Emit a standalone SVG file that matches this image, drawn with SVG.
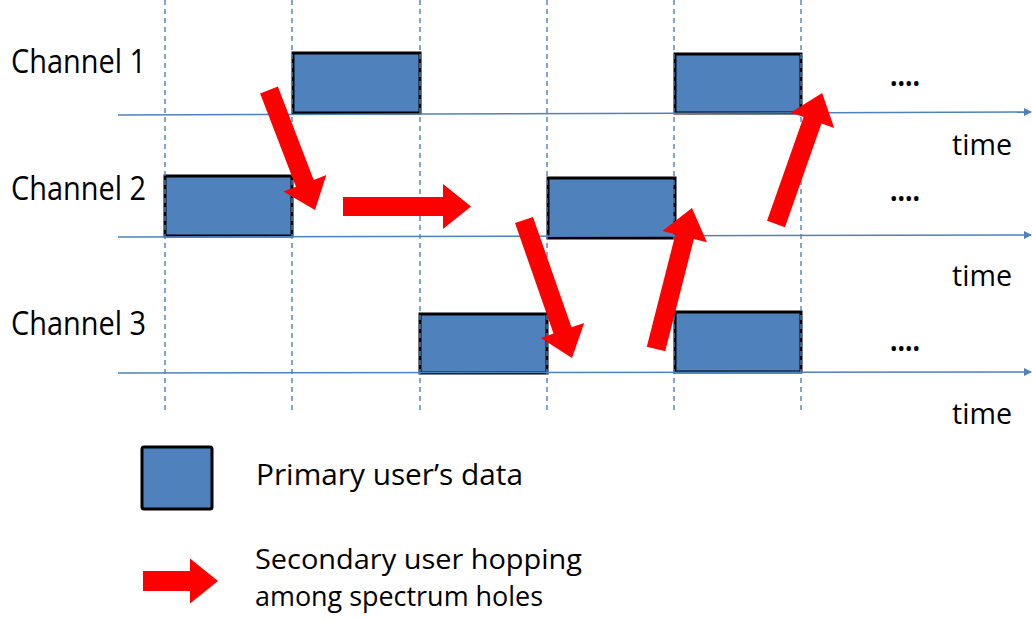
<svg xmlns="http://www.w3.org/2000/svg" width="1032" height="620" viewBox="0 0 1032 620">
<style>
  .grid { stroke:#4F81BD; stroke-width:1.4; stroke-dasharray:5 4; fill:none; }
  .axis { stroke:#4F81BD; stroke-width:1.5; fill:none; }
  .box { fill:#4F81BD; stroke:#000; stroke-width:3; }
  .hop { fill:#FF0000; stroke:none; }
  .lbl { font-family:"Open Sans","Liberation Sans",sans-serif; fill:#000; }
</style>
<defs>
  <marker id="axhead" markerWidth="8" markerHeight="8" refX="7" refY="4" orient="auto" markerUnits="userSpaceOnUse">
    <path d="M0,0 L8,4 L0,8 Z" fill="#4F81BD"/>
  </marker>
</defs>
<rect width="1032" height="620" fill="#fff"/>

<g id="channel-labels">
  <text class="lbl" x="11" y="73" font-size="32" textLength="135" lengthAdjust="spacingAndGlyphs">Channel 1</text>
  <text class="lbl" x="11" y="200" font-size="32" textLength="135" lengthAdjust="spacingAndGlyphs">Channel 2</text>
  <text class="lbl" x="11" y="335" font-size="32" textLength="135" lengthAdjust="spacingAndGlyphs">Channel 3</text>
</g>

<g id="primary-blocks">
  <rect id="p1" class="box" x="293" y="53" width="127" height="60"/>
  <rect id="p2" class="box" x="675" y="54" width="126" height="59"/>
  <rect id="p3" class="box" x="165" y="176" width="127" height="60"/>
  <rect id="p4" class="box" x="548" y="178" width="127" height="60"/>
  <rect id="p5" class="box" x="420" y="314" width="127" height="59"/>
  <rect id="p6" class="box" x="675" y="312" width="126" height="60"/>
</g>

<g id="time-axes">
  <line class="axis" x1="118" y1="115" x2="1031" y2="112" marker-end="url(#axhead)"/>
  <line class="axis" x1="118" y1="237" x2="1031" y2="235" marker-end="url(#axhead)"/>
  <line class="axis" x1="118" y1="373" x2="1031" y2="372" marker-end="url(#axhead)"/>
</g>

<g id="slot-grid">
  <line class="grid" x1="165" y1="0" x2="165" y2="410"/>
  <line class="grid" x1="292" y1="0" x2="292" y2="410"/>
  <line class="grid" x1="420" y1="0" x2="420" y2="410"/>
  <line class="grid" x1="547" y1="0" x2="547" y2="410"/>
  <line class="grid" x1="674" y1="0" x2="674" y2="410"/>
  <line class="grid" x1="801" y1="0" x2="801" y2="410"/>
</g>

<g id="time-labels">
  <text class="lbl" x="952" y="155" font-size="30" textLength="60" lengthAdjust="spacingAndGlyphs">time</text>
  <text class="lbl" x="952" y="286" font-size="30" textLength="60" lengthAdjust="spacingAndGlyphs">time</text>
  <text class="lbl" x="952" y="424" font-size="30" textLength="60" lengthAdjust="spacingAndGlyphs">time</text>
</g>

<g id="ellipses">
  <text class="lbl" x="890" y="86" font-size="30" font-weight="bold" textLength="30" lengthAdjust="spacingAndGlyphs">....</text>
  <text class="lbl" x="890" y="201" font-size="30" font-weight="bold" textLength="30" lengthAdjust="spacingAndGlyphs">....</text>
  <text class="lbl" x="890" y="351" font-size="30" font-weight="bold" textLength="30" lengthAdjust="spacingAndGlyphs">....</text>
</g>

<g id="connectors">
  <path id="h1" class="hop" transform="translate(269,90) rotate(69)" d="M0,-9.5 H100 V-23 L128.5,0 L100,23 V9.5 H0 Z"/>
  <path id="h2" class="hop" transform="translate(343,206.5)" d="M0,-9.5 H100 V-22.5 L128,0 L100,22.5 V9.5 H0 Z"/>
  <path id="h3" class="hop" transform="translate(524,220) rotate(70.8)" d="M0,-9.5 H117 V-23 L146,0 L117,23 V9.5 H0 Z"/>
  <path id="h4" class="hop" transform="translate(656,349) rotate(-75.7)" d="M0,-9.5 H116 V-23 L145.5,0 L116,23 V9.5 H0 Z"/>
  <path id="h5" class="hop" transform="translate(776,224) rotate(-70.6)" d="M0,-9.5 H110 V-23 L139,0 L110,23 V9.5 H0 Z"/>
</g>

<g id="legend-primary">
  <rect class="box" x="142" y="447" width="70" height="62" rx="2"/>
  <text class="lbl" x="256" y="485" font-size="30" textLength="267" lengthAdjust="spacingAndGlyphs">Primary user’s data</text>
</g>

<g id="legend-secondary">
  <path class="hop" transform="translate(143,581)" d="M0,-10 H47 V-22.5 L75,0 L47,22.5 V10 H0 Z"/>
  <text class="lbl" x="255" y="569" font-size="28" textLength="327" lengthAdjust="spacingAndGlyphs">Secondary user hopping</text>
  <text class="lbl" x="255" y="606" font-size="28" textLength="288" lengthAdjust="spacingAndGlyphs">among spectrum holes</text>
</g>
</svg>
